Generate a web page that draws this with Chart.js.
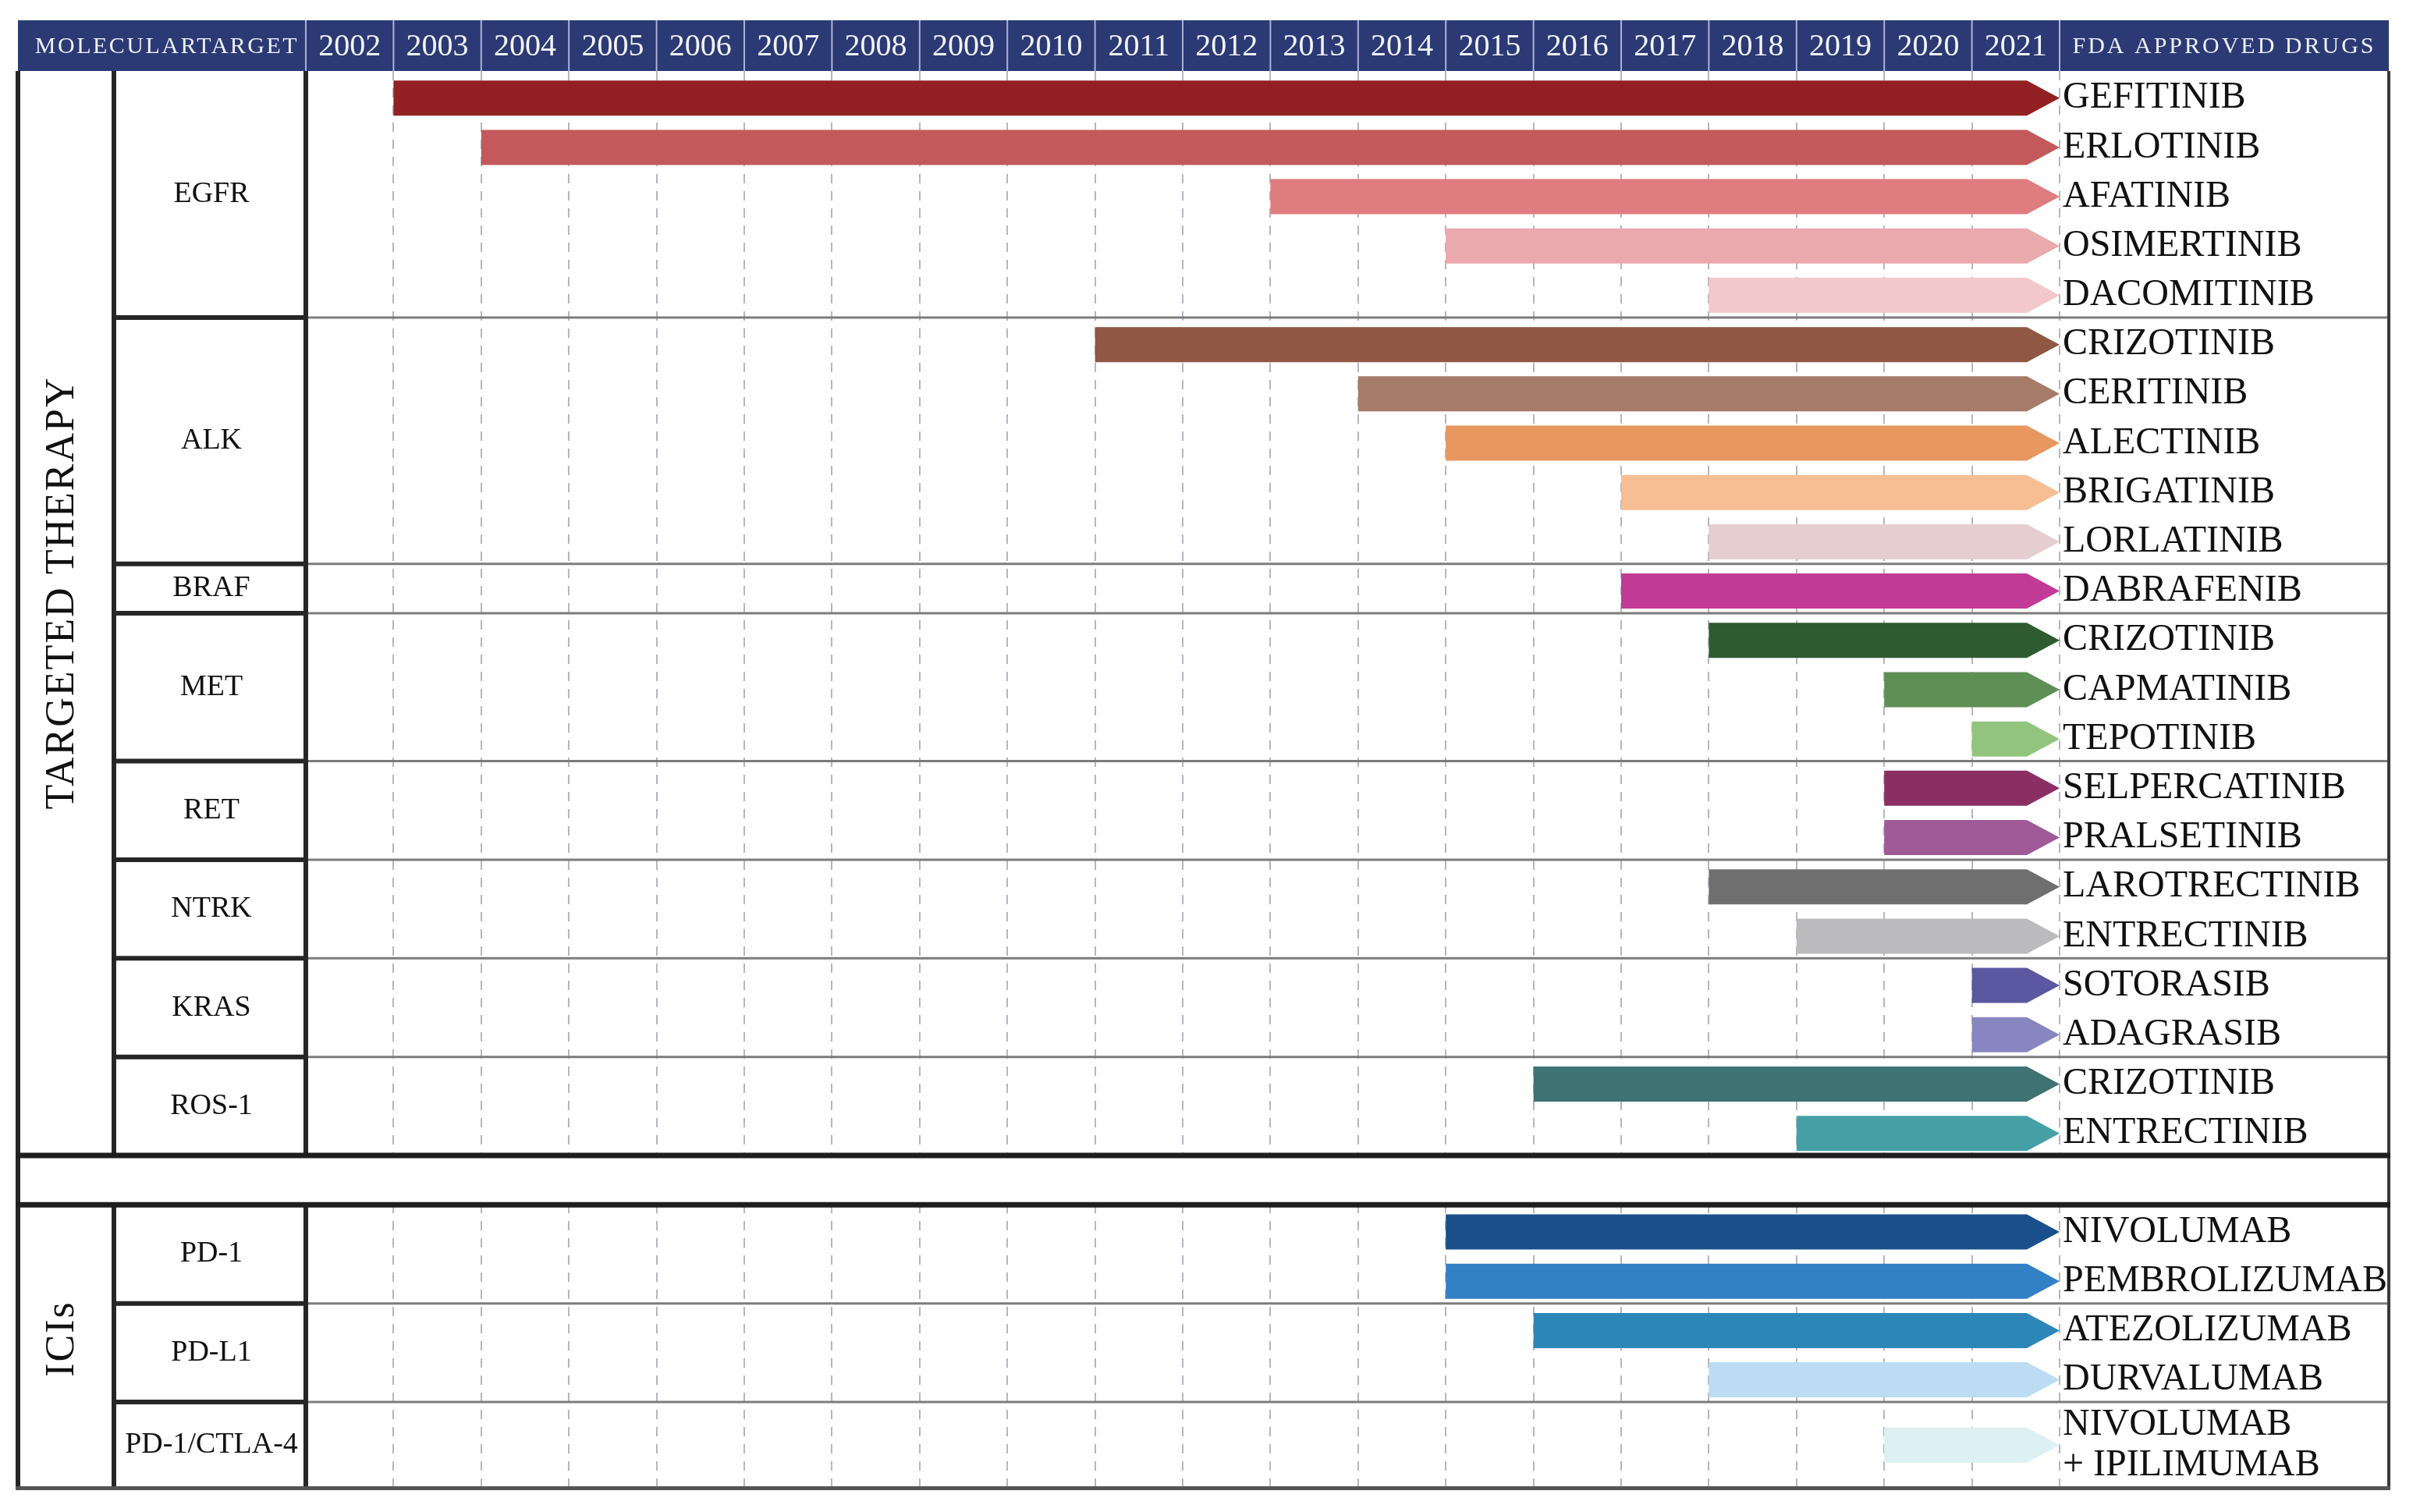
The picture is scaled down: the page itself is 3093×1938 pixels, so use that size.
<!DOCTYPE html>
<html>
<head>
<meta charset="utf-8">
<script src="https://cdn.jsdelivr.net/npm/chart.js@4/dist/chart.umd.min.js"></script>
<style>
  html, body { margin: 0; padding: 0; background: #fff; }
  canvas { display: block; }
</style>
</head>
<body>
<canvas id="chart" width="3093" height="1938" style="width:3093px;height:1938px"></canvas>
<script>
// Datos
const sections = ["TARGETED THERAPY", "ICIs"];
const targetsPerSection = [8, 3];
const targets = ["EGFR", "ALK", "BRAF", "MET", "RET", "NTRK", "KRAS", "ROS-1", "PD-1", "PD-L1", "PD-1/CTLA-4"];
const drugsPerTarget = [5, 5, 1, 3, 2, 2, 2, 2, 2, 2, 1];

const drugs = [
    "GEFITINIB", "ERLOTINIB", "AFATINIB", "OSIMERTINIB", "DACOMITINIB",
    "CRIZOTINIB", "CERITINIB", "ALECTINIB", "BRIGATINIB", "LORLATINIB",
    "DABRAFENIB",
    "CRIZOTINIB", "CAPMATINIB", "TEPOTINIB",
    "SELPERCATINIB", "PRALSETINIB",
    "LAROTRECTINIB", "ENTRECTINIB",
    "SOTORASIB", "ADAGRASIB",
    "CRIZOTINIB", "ENTRECTINIB",
    "NIVOLUMAB", "PEMBROLIZUMAB",
    "ATEZOLIZUMAB", "DURVALUMAB",
    ["NIVOLUMAB", "+ IPILIMUMAB"]
];

// Año de aprobación FDA (inicio de cada flecha)
const approvalYears = [
    2003, 2004, 2013, 2015, 2018,
    2011, 2014, 2015, 2017, 2018,
    2017,
    2018, 2020, 2021,
    2020, 2020,
    2018, 2019,
    2021, 2021,
    2016, 2019,
    2015, 2015,
    2016, 2018,
    2020
];

const years = [2002, 2003, 2004, 2005, 2006, 2007, 2008, 2009, 2010, 2011,
               2012, 2013, 2014, 2015, 2016, 2017, 2018, 2019, 2020, 2021];
const lastYear = 2021;

// Colores de cada flecha
const barColors = [
    "#932022", "#c4595b", "#df7c80", "#eaa9ad", "#f2c8cb",
    "#8f5845", "#a67b69", "#e8975f", "#f7be94", "#e5cdd0",
    "#c13b96",
    "#2e5b30", "#5e8f55", "#93c47d",
    "#8a2e63", "#a05a98",
    "#6f6f6f", "#bbbbbd",
    "#5a58a0", "#8886c0",
    "#3f7272", "#45a0a6",
    "#1b4f8b", "#3280c6",
    "#2c87b8", "#bcdcf4",
    "#ddf0f4"
];

const SERIF = '"Liberation Serif", "Times New Roman", serif';
const NAVY = "#2b3a74";
const TABLE_LEFT = 23;
const TABLE_RIGHT = 3062;
const COL_TARGET = 146;

// Filas: una por fármaco, una fila vacía entre secciones, la última más alta (2 líneas)
const rowCenters = [];
const targetSpans = [];
const sectionSpans = [];
let row = 0, d = 0, t = 0;
targetsPerSection.forEach((nTargets, s) => {
    if (s > 0) row += 1;
    const sTop = row;
    for (let k = 0; k < nTargets; k++, t++) {
        const tTop = row;
        for (let j = 0; j < drugsPerTarget[t]; j++, d++) {
            const h = Array.isArray(drugs[d]) ? 1.75 : 1;
            rowCenters.push(row + (h > 1 ? h / 2 : 0.55));
            row += h;
        }
        targetSpans.push([tTop, row]);
    }
    sectionSpans.push([sTop, row]);
});
const rowCount = row;

const tableData = drugs.map((name, i) => ({ x: [approvalYears[i], lastYear + 1], y: rowCenters[i] }));

// Flechas en lugar de barras rectangulares
const arrowBars = {
    id: "arrowBars",
    beforeDatasetDraw(chart, args) {
        const ctx = chart.ctx;
        const head = 42;
        ctx.save();
        args.meta.data.forEach((bar, i) => {
            const { x, y, base, height } = bar.getProps(["x", "y", "base", "height"], true);
            const top = y - height / 2, bottom = y + height / 2;
            ctx.beginPath();
            ctx.moveTo(base, top);
            ctx.lineTo(x - head, top);
            ctx.lineTo(x, y);
            ctx.lineTo(x - head, bottom);
            ctx.lineTo(base, bottom);
            ctx.closePath();
            ctx.fillStyle = barColors[i];
            ctx.fill();
        });
        ctx.restore();
        return false;
    }
};

// Cabecera azul y tabla de la izquierda
const tableFrame = {
    id: "tableFrame",
    beforeDraw(chart) {
        const ctx = chart.ctx;
        const x = chart.scales.x;
        const top = chart.scales.x2.top;
        const bottom = chart.chartArea.top;
        ctx.save();
        ctx.fillStyle = "#fff";
        ctx.fillRect(0, 0, chart.width, chart.height);
        ctx.fillStyle = NAVY;
        ctx.fillRect(TABLE_LEFT, top, TABLE_RIGHT - TABLE_LEFT, bottom - top);

        ctx.strokeStyle = "#aab2d6";
        ctx.lineWidth = 2;
        [...years, lastYear + 1].forEach(v => {
            const px = x.getPixelForValue(v);
            ctx.beginPath();
            ctx.moveTo(px, top);
            ctx.lineTo(px, bottom);
            ctx.stroke();
        });

        ctx.fillStyle = "#eef0f8";
        ctx.font = "30px " + SERIF;
        ctx.textAlign = "center";
        ctx.textBaseline = "middle";
        ctx.letterSpacing = "2.5px";
        const midY = (top + bottom) / 2 + 2;
        ctx.fillText("MOLECULARTARGET", 214, midY);
        ctx.letterSpacing = "3px";
        ctx.fillText("FDA APPROVED DRUGS", (x.right + TABLE_RIGHT) / 2, midY);
        ctx.restore();
    },
    afterDraw(chart) {
        const ctx = chart.ctx;
        const x = chart.scales.x;
        const y = chart.scales.y;
        const area = chart.chartArea;
        const py = v => y.getPixelForValue(v);
        ctx.save();

        // fila vacía entre secciones (sin rejilla)
        const gapTop = py(sectionSpans[0][1]);
        const gapBottom = py(sectionSpans[1][0]);
        ctx.fillStyle = "#fff";
        ctx.fillRect(TABLE_LEFT, gapTop, TABLE_RIGHT - TABLE_LEFT, gapBottom - gapTop);

        // separadores entre dianas
        targetSpans.forEach(([a, b], i) => {
            const isSectionEnd = sectionSpans.some(s => s[1] === b);
            if (isSectionEnd) return;
            ctx.strokeStyle = "#7c7c7c";
            ctx.lineWidth = 3;
            ctx.beginPath();
            ctx.moveTo(x.left, py(b));
            ctx.lineTo(TABLE_RIGHT, py(b));
            ctx.stroke();
            ctx.strokeStyle = "#262626";
            ctx.lineWidth = 6;
            ctx.beginPath();
            ctx.moveTo(COL_TARGET, py(b));
            ctx.lineTo(x.left, py(b));
            ctx.stroke();
        });

        // líneas verticales de la tabla
        ctx.strokeStyle = "#262626";
        ctx.lineWidth = 6;
        sectionSpans.forEach(([a, b]) => {
            [TABLE_LEFT, COL_TARGET, x.left].forEach(px => {
                ctx.beginPath();
                ctx.moveTo(px, py(a));
                ctx.lineTo(px, py(b));
                ctx.stroke();
            });
        });
        ctx.beginPath();
        ctx.moveTo(TABLE_LEFT, gapTop);
        ctx.lineTo(TABLE_LEFT, gapBottom);
        ctx.stroke();

        ctx.strokeStyle = "#3a3a3a";
        ctx.lineWidth = 4;
        ctx.beginPath();
        ctx.moveTo(TABLE_RIGHT, area.top);
        ctx.lineTo(TABLE_RIGHT, area.bottom);
        ctx.stroke();

        ctx.strokeStyle = "#1e1e1e";
        ctx.lineWidth = 7;
        [gapTop, gapBottom].forEach(v => {
            ctx.beginPath();
            ctx.moveTo(TABLE_LEFT - 3, v);
            ctx.lineTo(TABLE_RIGHT + 2, v);
            ctx.stroke();
        });

        // línea inferior
        ctx.strokeStyle = "#555";
        ctx.lineWidth = 5;
        ctx.beginPath();
        ctx.moveTo(TABLE_LEFT - 3, area.bottom);
        ctx.lineTo(TABLE_RIGHT + 2, area.bottom);
        ctx.stroke();

        // nombres de las dianas
        ctx.fillStyle = "#111";
        ctx.font = "38px " + SERIF;
        ctx.textAlign = "center";
        ctx.textBaseline = "middle";
        targets.forEach((name, i) => {
            const [a, b] = targetSpans[i];
            ctx.fillText(name, (COL_TARGET + x.left) / 2 + 2, (py(a) + py(b)) / 2);
        });

        // secciones en vertical
        ctx.font = "52px " + SERIF;
        ctx.letterSpacing = "2px";
        const sectionShift = [-26, -10];
        sections.forEach((name, i) => {
            const [a, b] = sectionSpans[i];
            ctx.save();
            ctx.translate((TABLE_LEFT + COL_TARGET) / 2 - 4, (py(a) + py(b)) / 2 + sectionShift[i]);
            ctx.rotate(-Math.PI / 2);
            ctx.fillText(name, 0, 0);
            ctx.restore();
        });
        ctx.restore();
    }
};

const ctx = document.getElementById("chart").getContext("2d");
const drugChart = new Chart(ctx, {
    type: "bar",
    data: {
        datasets: [{
            data: tableData,
            backgroundColor: barColors,
            barThickness: 45
        }]
    },
    options: {
        indexAxis: "y",
        responsive: false,
        devicePixelRatio: 1,
        animation: false,
        layout: { padding: { left: 392, top: 26, right: 0, bottom: 28 } },
        plugins: {
            legend: { display: false },
            tooltip: { enabled: false }
        },
        scales: {
            x: {
                type: "linear",
                position: "bottom",
                min: years[0],
                max: lastYear + 1,
                z: 1,
                afterBuildTicks: scale => {
                    scale.ticks = [...years, lastYear + 1].map(v => ({ value: v }));
                },
                afterFit: scale => { scale.height = 0; },
                ticks: { display: false },
                grid: {
                    drawTicks: false,
                    lineWidth: 2,
                    color: c => c.tick && c.tick.value === years[0] ? "rgba(0,0,0,0)" : "rgba(80,80,105,0.42)"
                },
                // líneas discontinuas
                border: { display: false, dash: [12, 10] }
            },
            x2: {
                type: "category",
                position: "top",
                labels: years.map(String),
                offset: true,
                afterFit: scale => { scale.height = 65; },
                grid: { display: false, drawTicks: false },
                border: { display: false },
                ticks: {
                    color: "#f2f3fa",
                    padding: 7,
                    maxRotation: 0,
                    autoSkip: false,
                    font: { family: SERIF, size: 40 }
                }
            },
            y: {
                type: "linear",
                position: "right",
                reverse: true,
                offset: false,
                min: 0,
                max: rowCount,
                afterBuildTicks: scale => {
                    scale.ticks = rowCenters.map(v => ({ value: v }));
                },
                afterFit: scale => { scale.width = 3093 - 2640; },
                grid: { display: false, drawTicks: false, offset: false },
                border: { display: false },
                ticks: {
                    autoSkip: false,
                    padding: 4,
                    color: "#111",
                    font: { family: SERIF, size: 48, lineHeight: 1.1 },
                    callback: (value, index) => drugs[index]
                }
            }
        }
    },
    plugins: [tableFrame, arrowBars]
});
</script>
</body>
</html>
